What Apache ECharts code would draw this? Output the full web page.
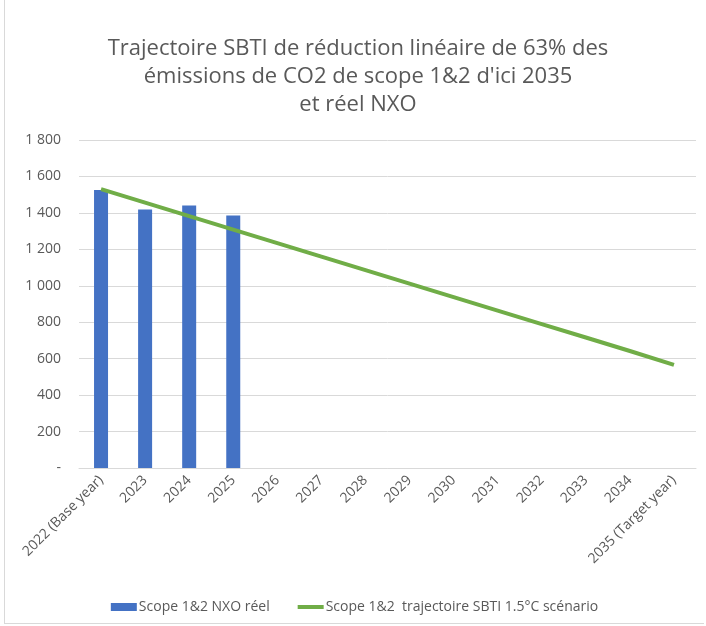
<!DOCTYPE html>
<html>
<head>
<meta charset="utf-8">
<script src="https://cdn.jsdelivr.net/npm/echarts@6/dist/echarts.min.js"></script>
<style>
  html, body { margin: 0; padding: 0; background: #fff; }
  #chart { position: absolute; left: 4px; top: 0; width: 700px; height: 624px; border-left: 1px solid #d9d9d9; border-bottom: 1px solid #d9d9d9; box-sizing: border-box; }
</style>
</head>
<body>
<div id="chart"></div>
<script>
// catégories (années)
const years = ['2022 (Base year)', '2023', '2024', '2025', '2026', '2027', '2028', '2029',
  '2030', '2031', '2032', '2033', '2034', '2035 (Target year)']
// émissions réelles NXO
const reel = [1526, 1418, 1440, 1385, null, null, null, null, null, null, null, null, null, null]
// trajectoire SBTI 1.5°C
const trajectoire = [1530, 1456, 1382, 1308, 1234, 1160, 1086, 1012, 938, 864, 790, 716, 642, 566]

const textColor = '#595959'
const chart = echarts.init(document.getElementById('chart'))

chart.setOption({
  animation: false,
  textStyle: { fontFamily: 'Open Sans, sans-serif' },
  title: {
    text: 'Trajectoire SBTI de réduction linéaire de 63% des\némissions de CO2 de scope 1&2 d\'ici 2035\net réel NXO',
    left: 348,
    top: 30,
    textAlign: 'center',
    textStyle: { fontSize: 22, fontWeight: 'normal', color: textColor, lineHeight: 28 }
  },
  legend: {
    bottom: 4,
    left: 'center',
    itemGap: 28,
    itemWidth: 26,
    itemHeight: 8,
    textStyle: { fontSize: 14, color: textColor, padding: [0, 0, 0, -3] },
    data: [
      { name: 'Scope 1&2 NXO réel', icon: 'rect' },
      { name: 'Scope 1&2  trajectoire SBTI 1.5°C scénario', icon: 'path://M0,0h26v4h-26z' }
    ]
  },
  grid: { left: 74, right: 8, top: 140, bottom: 155 },
  xAxis: {
    type: 'category',
    data: years,
    axisTick: { show: false },
    axisLine: { lineStyle: { color: '#d9d9d9' } },
    axisLabel: { rotate: 45, color: textColor, fontSize: 14, interval: 0, margin: 10 }
  },
  yAxis: {
    type: 'value',
    min: 0,
    max: 1800,
    interval: 200,
    axisLine: { show: false },
    axisTick: { show: false },
    splitLine: { lineStyle: { color: '#d9d9d9' } },
    axisLabel: {
      color: textColor,
      fontSize: 14,
      margin: 18,
      formatter: v => v === 0 ? '-' : String(v).replace(/\B(?=(\d{3})+(?!\d))/g, ' ')
    }
  },
  series: [
    {
      name: 'Scope 1&2 NXO réel',
      type: 'bar',
      data: reel,
      barWidth: 14,
      itemStyle: { color: '#4472c4' }
    },
    {
      name: 'Scope 1&2  trajectoire SBTI 1.5°C scénario',
      type: 'line',
      data: trajectoire,
      symbol: 'none',
      lineStyle: { color: '#70ad47', width: 4 },
      itemStyle: { color: '#70ad47' }
    }
  ]
})
</script>
</body>
</html>
